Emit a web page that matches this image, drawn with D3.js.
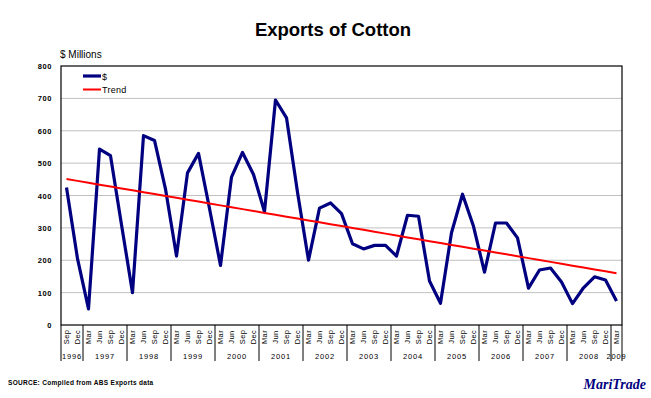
<!DOCTYPE html>
<html>
<head>
<meta charset="utf-8">
<script src="https://cdn.jsdelivr.net/npm/d3@7"></script>
<style>
  body { margin: 0; background: #fff; }
  svg { display: block; font-family: Arial, "Liberation Sans", sans-serif; }
</style>
</head>
<body>
<script>
// quarterly periods, Sep 1996 .. Mar 2009
const periods = [
  'Sep 1996', 'Dec 1996',
  'Mar 1997', 'Jun 1997', 'Sep 1997', 'Dec 1997',
  'Mar 1998', 'Jun 1998', 'Sep 1998', 'Dec 1998',
  'Mar 1999', 'Jun 1999', 'Sep 1999', 'Dec 1999',
  'Mar 2000', 'Jun 2000', 'Sep 2000', 'Dec 2000',
  'Mar 2001', 'Jun 2001', 'Sep 2001', 'Dec 2001',
  'Mar 2002', 'Jun 2002', 'Sep 2002', 'Dec 2002',
  'Mar 2003', 'Jun 2003', 'Sep 2003', 'Dec 2003',
  'Mar 2004', 'Jun 2004', 'Sep 2004', 'Dec 2004',
  'Mar 2005', 'Jun 2005', 'Sep 2005', 'Dec 2005',
  'Mar 2006', 'Jun 2006', 'Sep 2006', 'Dec 2006',
  'Mar 2007', 'Jun 2007', 'Sep 2007', 'Dec 2007',
  'Mar 2008', 'Jun 2008', 'Sep 2008', 'Dec 2008',
  'Mar 2009'
];

// export value, $ millions
const exportsValue = [
  425, 205,
  50, 543, 523, 310,
  100, 585, 570, 420,
  213, 470, 530, 360,
  184, 457, 533, 465,
  350, 695, 640, 410,
  200, 361, 377, 344,
  251, 235, 246, 246,
  213, 339, 336, 136,
  67, 285, 404, 305,
  163, 315, 315, 269,
  114, 170, 176, 133,
  66, 115, 149, 139,
  74
];

const yTicks = [0, 100, 200, 300, 400, 500, 600, 700, 800];

const width = 651;
const height = 398;
const plot = { left: 61, right: 622, top: 66, bottom: 325 };

const svg = d3.select('body')
  .append('svg')
  .attr('width', width)
  .attr('height', height);

const x = d3.scalePoint()
  .domain(periods)
  .range([plot.left, plot.right])
  .padding(0.5);
const step = x.step();

const y = d3.scaleLinear()
  .domain([0, 800])
  .range([plot.bottom, plot.top]);

// title
svg.append('text')
  .attr('x', 333)
  .attr('y', 36)
  .attr('text-anchor', 'middle')
  .attr('font-size', 18.5)
  .attr('font-weight', 'bold')
  .text('Exports of Cotton');

svg.append('text')
  .attr('x', 60)
  .attr('y', 58)
  .attr('font-size', 10)
  .text('$ Millions');

// gridlines
svg.append('g')
  .selectAll('line')
  .data(yTicks.filter((d) => d > 0 && d < 800))
  .join('line')
  .attr('x1', plot.left)
  .attr('x2', plot.right)
  .attr('y1', (d) => y(d))
  .attr('y2', (d) => y(d))
  .attr('stroke', '#c0c0c0')
  .attr('stroke-width', 1);

// y tick labels
svg.append('g')
  .selectAll('text')
  .data(yTicks)
  .join('text')
  .attr('x', 52)
  .attr('y', (d) => y(d) + 3)
  .attr('text-anchor', 'end')
  .attr('font-size', 7.5)
  .attr('font-weight', 'bold')
  .attr('letter-spacing', 0.6)
  .text((d) => d);

// frame
svg.append('rect')
  .attr('x', plot.left)
  .attr('y', plot.top)
  .attr('width', plot.right - plot.left)
  .attr('height', plot.bottom - plot.top)
  .attr('fill', 'none')
  .attr('stroke', '#000')
  .attr('stroke-width', 1.2);

// month labels (rotated)
svg.append('g')
  .selectAll('text')
  .data(periods)
  .join('text')
  .attr('transform', (d) => `translate(${x(d) + 2.8},${337}) rotate(-90)`)
  .attr('text-anchor', 'middle')
  .attr('font-size', 7.5)
  .attr('letter-spacing', 0.4)
  .text((d) => d.split(' ')[0]);

// year groups
const yearGroups = d3.groups(periods, (d) => d.split(' ')[1]);
let start = 0;
const groups = yearGroups.map(([year, items]) => {
  const g = { year, start, count: items.length };
  start += items.length;
  return g;
});

const sepX = (i) => plot.left + i * step;

svg.append('g')
  .selectAll('line')
  .data([0, ...groups.map((g) => g.start + g.count)])
  .join('line')
  .attr('x1', (d) => sepX(d))
  .attr('x2', (d) => sepX(d))
  .attr('y1', plot.bottom)
  .attr('y2', 361)
  .attr('stroke', '#000')
  .attr('stroke-width', 1);

svg.append('g')
  .selectAll('text')
  .data(groups)
  .join('text')
  .attr('x', (d) => sepX(d.start + d.count / 2))
  .attr('y', 359)
  .attr('text-anchor', 'middle')
  .attr('font-size', 7.5)
  .attr('letter-spacing', 0.8)
  .text((d) => d.year);

// linear trend (least squares over the series)
const idx = exportsValue.map((_, i) => i);
const mx = d3.mean(idx);
const my = d3.mean(exportsValue);
const slope = d3.sum(idx, (i) => (i - mx) * (exportsValue[i] - my)) /
  d3.sum(idx, (i) => (i - mx) ** 2);
const trend = idx.map((i) => my + slope * (i - mx));

const line = d3.line()
  .x((d, i) => x(periods[i]))
  .y((d) => y(d));

svg.append('path')
  .datum(exportsValue)
  .attr('d', line)
  .attr('fill', 'none')
  .attr('stroke', '#000080')
  .attr('stroke-width', 3.2)
  .attr('stroke-linejoin', 'round');

svg.append('path')
  .datum(trend)
  .attr('d', line)
  .attr('fill', 'none')
  .attr('stroke', '#ff0000')
  .attr('stroke-width', 2);

// legend
const legend = svg.append('g').attr('transform', 'translate(83,0)');
legend.append('line')
  .attr('x1', 0).attr('x2', 18)
  .attr('y1', 76).attr('y2', 76)
  .attr('stroke', '#000080').attr('stroke-width', 3.2);
legend.append('text')
  .attr('x', 19).attr('y', 79.5)
  .attr('font-size', 9)
  .text('$');
legend.append('line')
  .attr('x1', 0).attr('x2', 18)
  .attr('y1', 89.5).attr('y2', 89.5)
  .attr('stroke', '#ff0000').attr('stroke-width', 2);
legend.append('text')
  .attr('x', 19).attr('y', 93)
  .attr('font-size', 9)
  .attr('letter-spacing', 0.3)
  .text('Trend');

// footer
svg.append('text')
  .attr('x', 8)
  .attr('y', 385)
  .attr('font-size', 6.5)
  .attr('font-weight', 'bold')
  .attr('letter-spacing', 0.3)
  .text('SOURCE: Compiled from ABS Exports data');

svg.append('text')
  .attr('x', 646)
  .attr('y', 389)
  .attr('text-anchor', 'end')
  .attr('font-family', '"Liberation Serif", "DejaVu Serif", serif')
  .attr('font-style', 'italic')
  .attr('font-weight', 'bold')
  .attr('font-size', 14)
  .attr('fill', '#000080')
  .text('MariTrade');
</script>
</body>
</html>
